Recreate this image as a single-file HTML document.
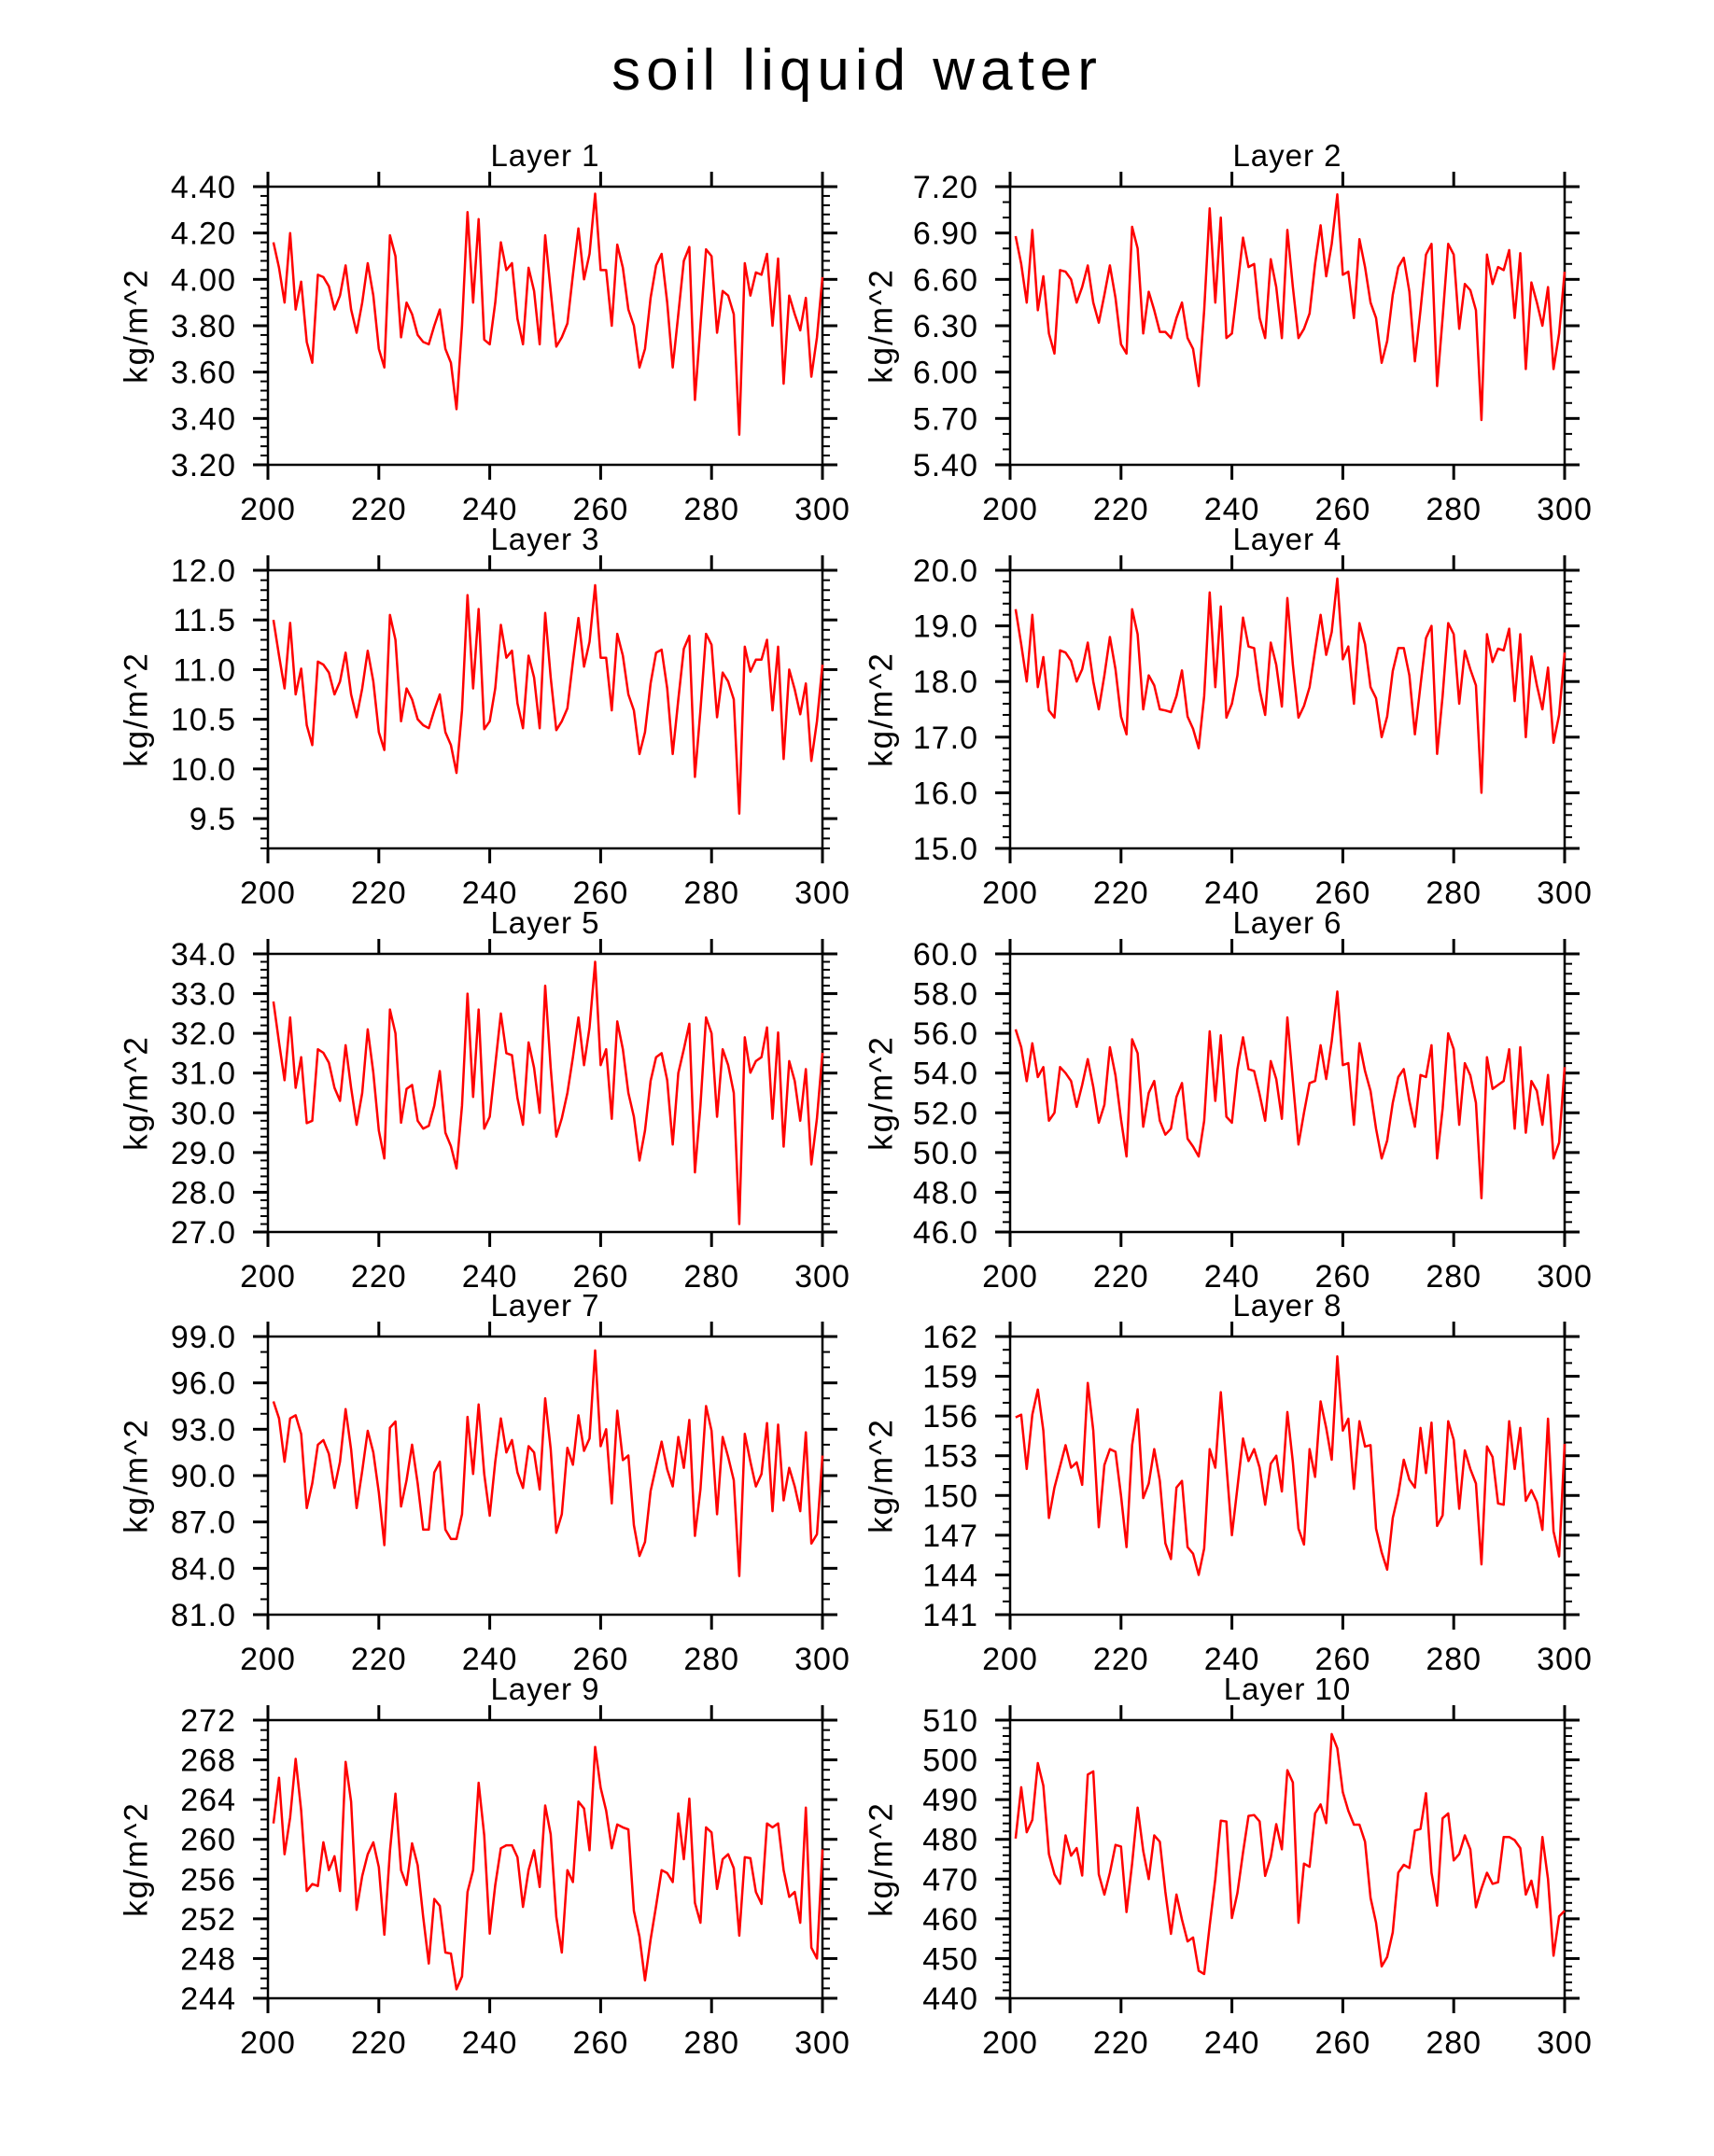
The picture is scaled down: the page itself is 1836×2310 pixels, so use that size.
<!DOCTYPE html>
<html><head><meta charset="utf-8"><title>soil liquid water</title>
<style>
html,body{margin:0;padding:0;background:#fff;}
svg{display:block;font-family:"Liberation Sans",sans-serif;}
</style></head>
<body>
<svg id="chart" width="1836" height="2310" viewBox="0 0 1836 2310" xmlns="http://www.w3.org/2000/svg">
<rect x="0" y="0" width="1836" height="2310" fill="#fff"/>
<text x="918" y="96" text-anchor="middle" font-size="62" fill="#000" letter-spacing="6" font-weight="300">soil  liquid  water</text>
<g id="panels"></g>
</svg>
<script>
const xTicks = [200, 220, 240, 260, 280, 300];
const xMin = 200, xMax = 300, dayStart = 201;

const layer1 = [4.16,4.05,3.90,4.20,3.87,3.99,3.73,3.64,4.02,4.01,3.97,3.87,3.93,4.06,3.87,3.77,3.90,4.07,3.93,3.70,3.62,4.19,4.10,3.75,3.90,3.85,3.76,3.73,3.72,3.80,3.87,3.70,3.64,3.44,3.80,4.29,3.90,4.26,3.74,3.72,3.90,4.16,4.04,4.07,3.83,3.72,4.05,3.95,3.72,4.19,3.95,3.71,3.75,3.81,4.02,4.22,4.00,4.11,4.37,4.04,4.04,3.80,4.15,4.05,3.87,3.80,3.62,3.70,3.92,4.06,4.11,3.90,3.62,3.85,4.08,4.14,3.48,3.80,4.13,4.10,3.77,3.95,3.93,3.85,3.33,4.07,3.93,4.03,4.02,4.11,3.80,4.09,3.55,3.93,3.85,3.78,3.92,3.58,3.75,4.01];
const layer2 = [6.88,6.70,6.45,6.92,6.40,6.62,6.25,6.12,6.66,6.65,6.60,6.45,6.55,6.69,6.45,6.32,6.50,6.69,6.48,6.18,6.12,6.94,6.80,6.25,6.52,6.40,6.26,6.26,6.22,6.35,6.45,6.22,6.15,5.91,6.40,7.06,6.45,7.00,6.22,6.25,6.55,6.87,6.68,6.70,6.35,6.22,6.73,6.55,6.22,6.92,6.55,6.22,6.28,6.38,6.70,6.95,6.62,6.83,7.15,6.63,6.65,6.35,6.86,6.68,6.45,6.35,6.06,6.20,6.50,6.68,6.74,6.52,6.07,6.40,6.76,6.83,5.91,6.35,6.83,6.76,6.28,6.57,6.53,6.40,5.69,6.76,6.57,6.68,6.66,6.79,6.35,6.77,6.02,6.58,6.45,6.30,6.55,6.02,6.25,6.65];
const layer3 = [11.50,11.14,10.81,11.47,10.75,11.01,10.44,10.24,11.08,11.05,10.97,10.75,10.88,11.17,10.75,10.52,10.81,11.19,10.88,10.37,10.19,11.55,11.30,10.48,10.81,10.70,10.50,10.44,10.41,10.59,10.75,10.37,10.24,9.96,10.59,11.75,10.81,11.61,10.40,10.48,10.81,11.45,11.12,11.19,10.66,10.41,11.14,10.92,10.41,11.57,10.92,10.39,10.48,10.61,11.08,11.52,11.03,11.28,11.85,11.12,11.12,10.59,11.36,11.14,10.75,10.59,10.15,10.37,10.86,11.17,11.20,10.81,10.15,10.70,11.21,11.34,9.92,10.59,11.36,11.25,10.52,10.97,10.88,10.70,9.55,11.23,10.98,11.10,11.10,11.30,10.59,11.23,10.10,11.00,10.80,10.55,10.86,10.08,10.48,11.05];
const layer4 = [19.30,18.67,18.00,19.20,17.90,18.44,17.48,17.35,18.56,18.52,18.37,18.00,18.22,18.70,18.00,17.50,18.11,18.80,18.22,17.37,17.05,19.30,18.85,17.50,18.11,17.93,17.50,17.48,17.45,17.74,18.20,17.37,17.15,16.80,17.74,19.60,17.90,19.35,17.35,17.60,18.11,19.15,18.63,18.60,17.85,17.40,18.70,18.30,17.55,19.50,18.30,17.35,17.56,17.90,18.56,19.20,18.48,18.89,19.85,18.40,18.63,17.60,19.05,18.67,17.90,17.70,17.00,17.37,18.19,18.60,18.60,18.11,17.05,17.93,18.78,19.00,16.70,17.74,19.05,18.85,17.60,18.55,18.22,17.93,16.00,18.85,18.35,18.59,18.56,18.95,17.65,18.85,17.00,18.45,17.93,17.50,18.25,16.90,17.40,18.52];
const layer5 = [32.80,31.77,30.82,32.40,30.63,31.40,29.74,29.80,31.60,31.51,31.26,30.63,30.30,31.70,30.63,29.70,30.50,32.10,31.01,29.55,28.85,32.60,32.00,29.75,30.60,30.70,29.80,29.60,29.67,30.18,31.05,29.50,29.16,28.60,30.18,33.00,30.40,32.60,29.60,29.90,31.20,32.50,31.50,31.45,30.37,29.70,31.77,31.13,30.00,33.20,31.13,29.40,29.86,30.50,31.40,32.40,31.20,32.15,33.80,31.20,31.60,29.85,32.30,31.60,30.50,29.90,28.80,29.55,30.80,31.40,31.50,30.82,29.20,31.00,31.60,32.24,28.50,30.18,32.40,32.00,29.90,31.60,31.20,30.50,27.20,31.90,31.01,31.30,31.40,32.15,29.85,32.02,29.15,31.30,30.80,29.80,31.10,28.70,29.86,31.51];
const layer6 = [56.20,55.30,53.59,55.50,53.80,54.30,51.60,52.00,54.30,54.00,53.60,52.30,53.40,54.70,53.30,51.50,52.40,55.30,53.88,51.67,49.80,55.70,55.00,51.30,53.00,53.60,51.60,50.90,51.20,52.80,53.50,50.70,50.30,49.80,51.60,56.10,52.60,55.90,51.80,51.50,54.20,55.80,54.20,54.10,52.92,51.60,54.60,53.70,51.70,56.80,53.60,50.40,52.00,53.50,53.60,55.40,53.70,55.60,58.10,54.40,54.50,51.40,55.50,54.10,53.10,51.20,49.70,50.60,52.50,53.80,54.20,52.60,51.30,53.90,53.80,55.40,49.70,52.20,56.00,55.20,51.40,54.50,53.88,52.50,47.70,54.80,53.20,53.40,53.60,55.20,51.20,55.30,51.00,53.60,53.10,51.40,53.90,49.70,50.50,54.30];
const layer7 = [94.8,93.7,90.9,93.7,93.9,92.7,87.9,89.5,92.0,92.3,91.4,89.2,90.9,94.3,91.7,87.9,90.3,92.9,91.5,88.9,85.5,93.1,93.5,88.0,89.7,92.0,89.5,86.5,86.5,90.2,90.9,86.5,85.9,85.9,87.5,93.8,90.1,94.6,90.1,87.4,90.9,93.7,91.5,92.3,90.2,89.2,91.9,91.5,89.1,95.0,91.7,86.3,87.5,91.8,90.7,93.9,91.6,92.4,98.1,91.9,93.0,88.2,94.2,91.0,91.3,86.8,84.8,85.7,89.0,90.6,92.2,90.4,89.3,92.5,90.5,93.6,86.1,89.1,94.5,92.9,87.5,92.5,91.2,89.7,83.5,92.7,90.9,89.3,90.1,93.4,87.7,93.3,88.4,90.5,89.3,87.7,92.8,85.6,86.2,91.3];
const layer8 = [155.9,156.1,152.0,156.1,158.0,154.9,148.3,150.6,152.2,153.8,152.1,152.5,150.8,158.5,154.9,147.6,152.3,153.5,153.3,150.0,146.1,153.8,156.5,149.8,150.9,153.5,151.1,146.4,145.2,150.6,151.1,146.1,145.6,144.0,146.0,153.5,152.1,157.8,152.3,147.0,150.6,154.3,152.6,153.5,152.1,149.3,152.4,153.0,150.3,156.3,152.5,147.5,146.3,153.5,151.4,157.1,155.1,152.7,160.5,154.9,155.8,150.5,155.6,153.7,153.8,147.5,145.7,144.4,148.3,150.1,152.7,151.2,150.6,155.1,151.7,155.5,147.7,148.5,155.6,154.2,149.0,153.4,152.0,150.9,144.8,153.7,152.9,149.4,149.3,155.6,152.0,155.1,149.6,150.4,149.5,147.4,155.8,147.3,145.4,153.9];
const layer9 = [261.6,266.2,258.5,262.2,268.1,262.9,254.8,255.5,255.3,259.7,256.9,258.3,254.8,267.8,263.8,252.9,256.3,258.5,259.7,257.2,250.4,258.8,264.6,256.9,255.4,259.6,257.4,252.2,247.5,254.0,253.3,248.6,248.5,244.9,246.2,254.7,256.9,265.7,260.4,250.5,255.4,259.1,259.4,259.4,258.2,253.2,256.9,258.9,255.2,263.4,260.5,252.2,248.6,256.9,255.7,263.8,263.1,258.9,269.3,265.2,262.9,259.1,261.5,261.2,261.0,252.8,250.2,245.8,249.9,253.3,256.9,256.6,255.7,262.6,258.0,264.1,253.6,251.6,261.2,260.7,255.0,258.0,258.5,257.1,250.3,258.2,258.1,254.7,253.5,261.6,261.2,261.6,256.9,254.2,254.7,251.6,263.2,249.1,248.0,259.0];
const layer10 = [480.2,493.1,481.8,484.9,499.2,493.5,476.3,471.2,468.8,481.0,475.9,477.8,470.9,496.3,497.1,471.2,466.1,471.6,478.6,478.2,461.7,473.9,488.0,477.1,470.0,481.0,479.4,466.8,456.2,466.1,459.8,454.3,455.3,446.9,446.1,458.3,470.0,484.7,484.5,460.2,466.5,476.7,485.9,486.1,484.5,470.8,475.5,483.8,477.5,497.4,494.3,459.0,473.9,473.1,486.5,488.8,484.1,506.5,502.9,491.9,487.2,483.7,483.7,479.4,465.3,459.0,448.0,450.4,456.6,471.6,473.6,472.8,482.2,482.6,491.6,471.6,463.3,485.3,486.5,474.7,476.3,481.0,477.5,462.9,467.6,471.6,468.8,469.2,480.6,480.6,479.8,477.8,466.1,469.6,462.9,480.6,470.0,450.7,460.6,462.0];

const yTicks1 = ["3.20","3.40","3.60","3.80","4.00","4.20","4.40"];
const yTicks2 = ["5.40","5.70","6.00","6.30","6.60","6.90","7.20"];
const yTicks3 = ["9.5","10.0","10.5","11.0","11.5","12.0"];
const yTicks4 = ["15.0","16.0","17.0","18.0","19.0","20.0"];
const yTicks5 = ["27.0","28.0","29.0","30.0","31.0","32.0","33.0","34.0"];
const yTicks6 = ["46.0","48.0","50.0","52.0","54.0","56.0","58.0","60.0"];
const yTicks7 = ["81.0","84.0","87.0","90.0","93.0","96.0","99.0"];
const yTicks8 = ["141","144","147","150","153","156","159","162"];
const yTicks9 = ["244","248","252","256","260","264","268","272"];
const yTicks10 = ["440","450","460","470","480","490","500","510"];

const panels = [
 {name:"Layer 1", data:layer1, ticks:yTicks1, min:3.2, max:4.4, minor:0.04},
 {name:"Layer 2", data:layer2, ticks:yTicks2, min:5.4, max:7.2, minor:0.1},
 {name:"Layer 3", data:layer3, ticks:yTicks3, min:9.2, max:12.0, minor:0.1},
 {name:"Layer 4", data:layer4, ticks:yTicks4, min:15, max:20, minor:0.2},
 {name:"Layer 5", data:layer5, ticks:yTicks5, min:27, max:34, minor:0.2},
 {name:"Layer 6", data:layer6, ticks:yTicks6, min:46, max:60, minor:0.5},
 {name:"Layer 7", data:layer7, ticks:yTicks7, min:81, max:99, minor:1},
 {name:"Layer 8", data:layer8, ticks:yTicks8, min:141, max:162, minor:1},
 {name:"Layer 9", data:layer9, ticks:yTicks9, min:244, max:272, minor:1},
 {name:"Layer 10", data:layer10, ticks:yTicks10, min:440, max:510, minor:2}
];

const NS = "http://www.w3.org/2000/svg";
const root = document.getElementById("panels");
function mk(tag, attrs, parent){
  const e = document.createElementNS(NS, tag);
  for (const k in attrs) e.setAttribute(k, attrs[k]);
  parent.appendChild(e);
  return e;
}
const colX = [287, 1082], W = 594, H = 298;
const rowY = [200, 611, 1022, 1432, 1843];

panels.forEach((p, i) => {
  const L = colX[i % 2], T = rowY[Math.floor(i / 2)], R = L + W, B = T + H;
  const slug = p.name.toLowerCase().replace(" ", "-");
  const g = mk("g", {}, root);
  
  
  const xs = v => L + (v - xMin) / (xMax - xMin) * W;
  const ys = v => B - (v - p.min) / (p.max - p.min) * H;

  const t = mk("text", {x: L + W/2, y: T - 22, "text-anchor":"middle", "font-size":33, fill:"#000", "letter-spacing":1}, g);
  
  
  t.textContent = p.name;

  const cx = i % 2 === 0 ? 148 : 946, cy = T + H/2;
  const yl = mk("text", {x: cx, y: cy, "text-anchor":"middle", "font-size":35, fill:"#000", "letter-spacing":2, transform:`rotate(-90 ${cx} ${cy})`, "dominant-baseline":"middle"}, g);
  
  
  yl.textContent = "kg/m^2";

  const nMinor = Math.round((p.max - p.min) / p.minor);
  for (let k = 0; k <= nMinor; k++) {
    const y = ys(p.min + k * p.minor);
    const m1 = mk("line", {x1: L - 8, x2: L, y1: y, y2: y, stroke:"#000", "stroke-width":2}, g);
    
    
    const m2 = mk("line", {x1: R, x2: R + 8, y1: y, y2: y, stroke:"#000", "stroke-width":2}, g);
    
    
  }
  p.ticks.forEach(lbl => {
    const y = ys(parseFloat(lbl));
    const a = mk("line", {x1: L - 16, x2: L, y1: y, y2: y, stroke:"#000", "stroke-width":3}, g);
    
    
    const b = mk("line", {x1: R, x2: R + 16, y1: y, y2: y, stroke:"#000", "stroke-width":3}, g);
    
    
    const tx = mk("text", {x: L - 34, y: y + 12, "text-anchor":"end", "font-size":34, fill:"#000", "letter-spacing":1}, g);
    
    
    tx.textContent = lbl;
  });
  xTicks.forEach(v => {
    const x = xs(v);
    const a = mk("line", {x1: x, x2: x, y1: T - 16, y2: T, stroke:"#000", "stroke-width":3}, g);
    
    
    const b = mk("line", {x1: x, x2: x, y1: B, y2: B + 16, stroke:"#000", "stroke-width":3}, g);
    
    
    const tx = mk("text", {x: x, y: B + 59, "text-anchor":"middle", "font-size":34, fill:"#000", "letter-spacing":1}, g);
    
    
    tx.textContent = v;
  });
  const fr = mk("rect", {x: L, y: T, width: W, height: H, fill:"none", stroke:"#000", "stroke-width":2.5}, g);
  
  
  const pts = p.data.map((v, k) => xs(dayStart + k).toFixed(1) + "," + ys(v).toFixed(1)).join(" ");
  const pl = mk("polyline", {points: pts, fill:"none", stroke:"#ff0000", "stroke-width":2.5, "stroke-linejoin":"round"}, g);
  
  
});
</script>
</body></html>
